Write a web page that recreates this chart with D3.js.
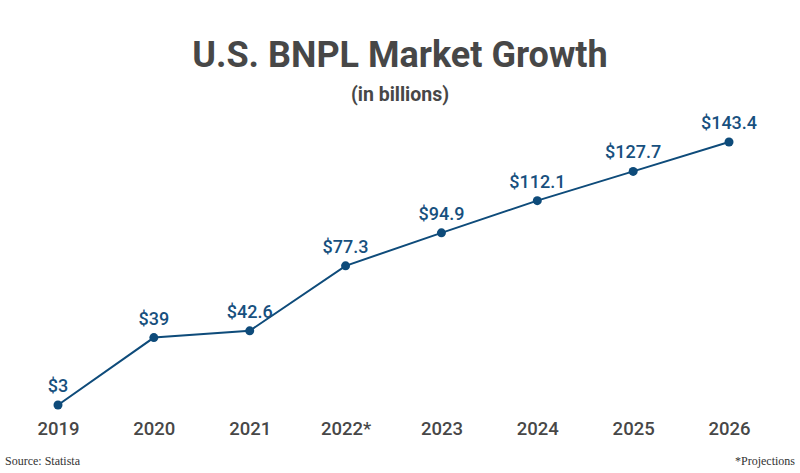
<!DOCTYPE html>
<html><head><meta charset="utf-8">
<script src="https://cdn.jsdelivr.net/npm/d3@7"></script>
<style>body{margin:0;background:#fff}</style>
</head><body>
<svg id="c" width="800" height="473"></svg>
<script>
const categories = ["2019","2020","2021","2022*","2023","2024","2025","2026"];
const values = [3, 39, 42.6, 77.3, 94.9, 112.1, 127.7, 143.4];
const labels = ["$3","$39","$42.6","$77.3","$94.9","$112.1","$127.7","$143.4"];

const svg = d3.select("#c");
const x = d3.scalePoint().domain(categories).range([58, 729]);
const y = d3.scaleLinear().domain([3, 143.4]).range([405, 142]);
const lineColor = "#0e4b7a";

svg.append("text").attr("x", 400).attr("y", 67).attr("text-anchor", "middle")
  .attr("font-family", "Roboto").attr("font-weight", "bold").attr("font-size", 36)
  .attr("fill", "#474747").text("U.S. BNPL Market Growth");
svg.append("text").attr("x", 400).attr("y", 101).attr("text-anchor", "middle")
  .attr("font-family", "Roboto").attr("font-weight", "bold").attr("font-size", 19.5)
  .attr("fill", "#474747").text("(in billions)");

const xAxis = svg.append("g").attr("transform", "translate(0,418)")
  .call(d3.axisBottom(x).tickSize(0).tickPadding(0));
xAxis.select(".domain").remove();
xAxis.selectAll("text").attr("font-family", "Roboto").attr("font-weight", 500)
  .attr("font-size", 18.5).attr("fill", "#474747").attr("dy", "0.9em");

const data = categories.map((c, i) => ({c, v: values[i], l: labels[i]}));
svg.append("path").datum(data)
  .attr("d", d3.line().x(d => x(d.c)).y(d => y(d.v)))
  .attr("fill", "none").attr("stroke", lineColor).attr("stroke-width", 2);
svg.selectAll("circle.p").data(data).join("circle").attr("class", "p")
  .attr("cx", d => x(d.c)).attr("cy", d => y(d.v)).attr("r", 4.5).attr("fill", lineColor);
svg.selectAll("text.lbl").data(data).join("text").attr("class", "lbl")
  .attr("x", d => x(d.c)).attr("y", d => y(d.v) - 13).attr("text-anchor", "middle")
  .attr("font-family", "Roboto").attr("font-weight", 500).attr("font-size", 18)
  .attr("fill", "#17507e").text(d => d.l);

svg.append("text").attr("x", 5).attr("y", 465).attr("font-family", "Liberation Serif")
  .attr("font-size", 12).attr("fill", "#333").text("Source: Statista");
svg.append("text").attr("x", 795).attr("y", 465).attr("text-anchor", "end")
  .attr("font-family", "Liberation Serif").attr("font-size", 12).attr("fill", "#333").text("*Projections");
</script>
</body></html>
